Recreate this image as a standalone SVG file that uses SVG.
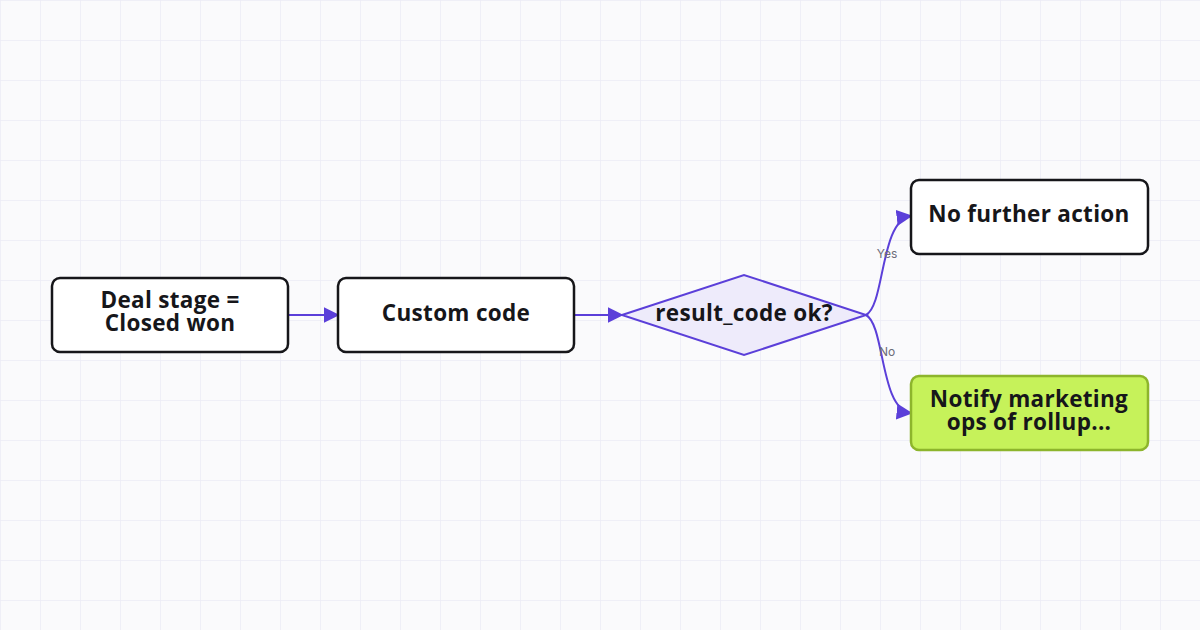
<svg xmlns="http://www.w3.org/2000/svg" width="1200" height="630" viewBox="0 0 1200 630">
<defs>
<pattern id="grid" width="40" height="40" patternUnits="userSpaceOnUse">
<path d="M0 0H40M0 0V40" fill="none" stroke="#ecebf6" stroke-width="1.5"/>
</pattern>
<marker id="ah" viewBox="0 0 10 10" refX="9" refY="5" markerWidth="16" markerHeight="16" markerUnits="userSpaceOnUse" orient="auto">
<path d="M0 0L10 5L0 10Z" fill="#5b3fd9"/>
</marker>
<style>
.box{fill:#fff;stroke:#16161a;stroke-width:2.5}
.lbl{font-family:"Open Sans","Noto Sans",sans-serif;font-weight:700;font-size:22.5px;letter-spacing:0.3px;fill:#16161a;text-anchor:middle}
.edge{fill:none;stroke:#5b3fd9;stroke-width:2;marker-end:url(#ah)}
.el{font-family:Inter,"Noto Sans",sans-serif;font-size:12px;fill:#6b6b78;text-anchor:middle}
</style>
</defs>
<rect width="1200" height="630" fill="#fafafc"/>
<rect width="1200" height="630" fill="url(#grid)"/>
<g id="connectors">
<path class="edge" d="M288 315H338"/>
<path class="edge" d="M574 315H622"/>
<path class="edge" d="M866 315C885 305 880 220 911 216"/>
<path class="edge" d="M866 315C885 325 880 410 911 413"/>
<text class="el" x="887" y="258">Yes</text>
<text class="el" x="887" y="356">No</text>
</g>
<g id="n1"><rect class="box" x="52" y="278" width="236" height="74" rx="8"/>
<text class="lbl" x="170" y="308">Deal stage =</text><text class="lbl" x="170" y="331">Closed won</text></g>
<g id="n2"><rect class="box" x="338" y="278" width="236" height="74" rx="8"/>
<text class="lbl" x="456" y="321">Custom code</text></g>
<g id="n3"><path d="M622 315L744 275L866 315L744 355Z" fill="#eeebfb" stroke="#5b3fd9" stroke-width="2"/>
<text class="lbl" x="744" y="321">result_code ok?</text></g>
<g id="n4"><rect class="box" x="911" y="180" width="237" height="74" rx="8"/>
<text class="lbl" x="1029" y="222">No further action</text></g>
<g id="n5"><rect x="911" y="376" width="237" height="74" rx="8" fill="#c6f25a" stroke="#8db52c" stroke-width="2.5"/>
<text class="lbl" x="1029" y="407">Notify marketing</text><text class="lbl" x="1029" y="430">ops of rollup...</text></g>
</svg>
